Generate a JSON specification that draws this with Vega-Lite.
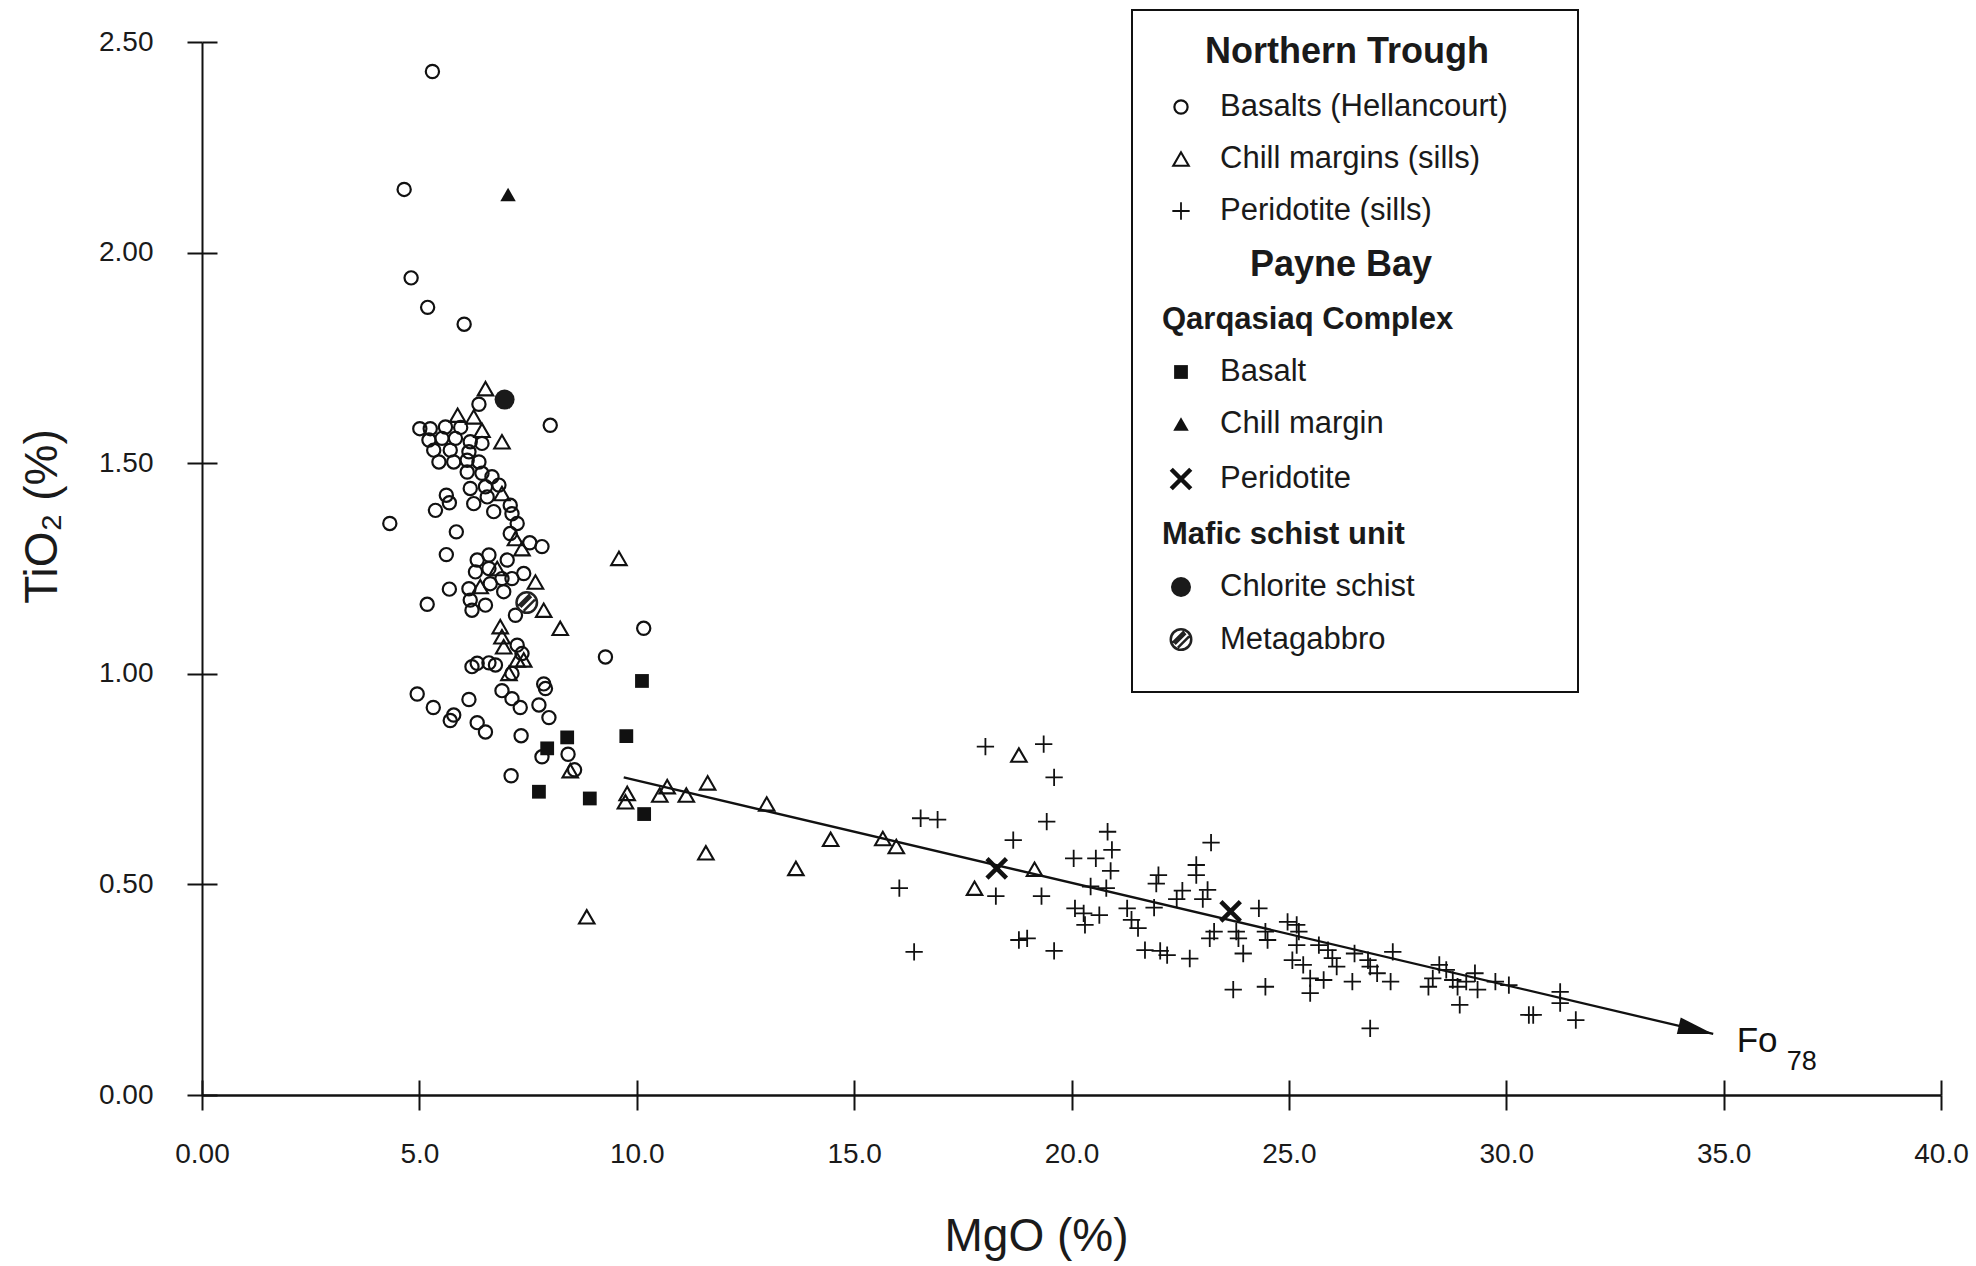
{
  "$schema": "https://vega.github.io/schema/vega-lite/v6.json",
  "width": 1739,
  "height": 1053,
  "autosize": {"type": "none"},
  "padding": {"left": 202, "top": 42, "right": 35, "bottom": 171},
  "background": "white",
  "config": {"view": {"stroke": null}, "font": "Liberation Sans"},
  "datasets": {
    "trend": [{"mgo": 9.7, "tio2": 0.754}, {"mgo": 34.76, "tio2": 0.145}],
    "label": [{"mgo": 35.3, "tio2": 0.103, "name": "Fo", "sub": "78"}],
    "points": [
      {"mgo":5.30,"tio2":2.43,"type":"Basalts (Hellancourt)"},
      {"mgo":4.65,"tio2":2.15,"type":"Basalts (Hellancourt)"},
      {"mgo":4.81,"tio2":1.94,"type":"Basalts (Hellancourt)"},
      {"mgo":5.19,"tio2":1.87,"type":"Basalts (Hellancourt)"},
      {"mgo":6.03,"tio2":1.83,"type":"Basalts (Hellancourt)"},
      {"mgo":8.01,"tio2":1.59,"type":"Basalts (Hellancourt)"},
      {"mgo":6.37,"tio2":1.64,"type":"Basalts (Hellancourt)"},
      {"mgo":5.01,"tio2":1.582,"type":"Basalts (Hellancourt)"},
      {"mgo":5.25,"tio2":1.582,"type":"Basalts (Hellancourt)"},
      {"mgo":5.60,"tio2":1.586,"type":"Basalts (Hellancourt)"},
      {"mgo":5.95,"tio2":1.585,"type":"Basalts (Hellancourt)"},
      {"mgo":5.22,"tio2":1.555,"type":"Basalts (Hellancourt)"},
      {"mgo":5.52,"tio2":1.559,"type":"Basalts (Hellancourt)"},
      {"mgo":5.83,"tio2":1.559,"type":"Basalts (Hellancourt)"},
      {"mgo":6.17,"tio2":1.551,"type":"Basalts (Hellancourt)"},
      {"mgo":6.44,"tio2":1.547,"type":"Basalts (Hellancourt)"},
      {"mgo":5.33,"tio2":1.531,"type":"Basalts (Hellancourt)"},
      {"mgo":5.71,"tio2":1.531,"type":"Basalts (Hellancourt)"},
      {"mgo":6.14,"tio2":1.527,"type":"Basalts (Hellancourt)"},
      {"mgo":5.45,"tio2":1.503,"type":"Basalts (Hellancourt)"},
      {"mgo":5.79,"tio2":1.503,"type":"Basalts (Hellancourt)"},
      {"mgo":6.10,"tio2":1.507,"type":"Basalts (Hellancourt)"},
      {"mgo":6.37,"tio2":1.503,"type":"Basalts (Hellancourt)"},
      {"mgo":6.10,"tio2":1.479,"type":"Basalts (Hellancourt)"},
      {"mgo":6.44,"tio2":1.476,"type":"Basalts (Hellancourt)"},
      {"mgo":6.67,"tio2":1.468,"type":"Basalts (Hellancourt)"},
      {"mgo":6.17,"tio2":1.44,"type":"Basalts (Hellancourt)"},
      {"mgo":6.52,"tio2":1.444,"type":"Basalts (Hellancourt)"},
      {"mgo":6.83,"tio2":1.448,"type":"Basalts (Hellancourt)"},
      {"mgo":6.25,"tio2":1.404,"type":"Basalts (Hellancourt)"},
      {"mgo":6.56,"tio2":1.42,"type":"Basalts (Hellancourt)"},
      {"mgo":6.71,"tio2":1.385,"type":"Basalts (Hellancourt)"},
      {"mgo":7.09,"tio2":1.40,"type":"Basalts (Hellancourt)"},
      {"mgo":7.13,"tio2":1.38,"type":"Basalts (Hellancourt)"},
      {"mgo":7.25,"tio2":1.357,"type":"Basalts (Hellancourt)"},
      {"mgo":7.09,"tio2":1.333,"type":"Basalts (Hellancourt)"},
      {"mgo":7.54,"tio2":1.311,"type":"Basalts (Hellancourt)"},
      {"mgo":7.82,"tio2":1.302,"type":"Basalts (Hellancourt)"},
      {"mgo":7.02,"tio2":1.27,"type":"Basalts (Hellancourt)"},
      {"mgo":4.32,"tio2":1.357,"type":"Basalts (Hellancourt)"},
      {"mgo":5.62,"tio2":1.424,"type":"Basalts (Hellancourt)"},
      {"mgo":5.69,"tio2":1.406,"type":"Basalts (Hellancourt)"},
      {"mgo":5.37,"tio2":1.388,"type":"Basalts (Hellancourt)"},
      {"mgo":5.85,"tio2":1.337,"type":"Basalts (Hellancourt)"},
      {"mgo":5.62,"tio2":1.283,"type":"Basalts (Hellancourt)"},
      {"mgo":5.69,"tio2":1.201,"type":"Basalts (Hellancourt)"},
      {"mgo":5.18,"tio2":1.165,"type":"Basalts (Hellancourt)"},
      {"mgo":6.60,"tio2":1.282,"type":"Basalts (Hellancourt)"},
      {"mgo":6.33,"tio2":1.27,"type":"Basalts (Hellancourt)"},
      {"mgo":6.29,"tio2":1.242,"type":"Basalts (Hellancourt)"},
      {"mgo":6.60,"tio2":1.25,"type":"Basalts (Hellancourt)"},
      {"mgo":6.90,"tio2":1.226,"type":"Basalts (Hellancourt)"},
      {"mgo":7.13,"tio2":1.226,"type":"Basalts (Hellancourt)"},
      {"mgo":7.40,"tio2":1.238,"type":"Basalts (Hellancourt)"},
      {"mgo":6.14,"tio2":1.202,"type":"Basalts (Hellancourt)"},
      {"mgo":6.63,"tio2":1.214,"type":"Basalts (Hellancourt)"},
      {"mgo":6.94,"tio2":1.195,"type":"Basalts (Hellancourt)"},
      {"mgo":6.17,"tio2":1.175,"type":"Basalts (Hellancourt)"},
      {"mgo":6.52,"tio2":1.163,"type":"Basalts (Hellancourt)"},
      {"mgo":6.21,"tio2":1.151,"type":"Basalts (Hellancourt)"},
      {"mgo":7.21,"tio2":1.139,"type":"Basalts (Hellancourt)"},
      {"mgo":7.25,"tio2":1.068,"type":"Basalts (Hellancourt)"},
      {"mgo":7.36,"tio2":1.048,"type":"Basalts (Hellancourt)"},
      {"mgo":6.33,"tio2":1.025,"type":"Basalts (Hellancourt)"},
      {"mgo":6.60,"tio2":1.026,"type":"Basalts (Hellancourt)"},
      {"mgo":6.21,"tio2":1.017,"type":"Basalts (Hellancourt)"},
      {"mgo":6.75,"tio2":1.021,"type":"Basalts (Hellancourt)"},
      {"mgo":7.13,"tio2":1.001,"type":"Basalts (Hellancourt)"},
      {"mgo":10.16,"tio2":1.108,"type":"Basalts (Hellancourt)"},
      {"mgo":9.28,"tio2":1.04,"type":"Basalts (Hellancourt)"},
      {"mgo":4.95,"tio2":0.952,"type":"Basalts (Hellancourt)"},
      {"mgo":5.32,"tio2":0.92,"type":"Basalts (Hellancourt)"},
      {"mgo":5.79,"tio2":0.902,"type":"Basalts (Hellancourt)"},
      {"mgo":5.71,"tio2":0.889,"type":"Basalts (Hellancourt)"},
      {"mgo":6.14,"tio2":0.939,"type":"Basalts (Hellancourt)"},
      {"mgo":6.33,"tio2":0.884,"type":"Basalts (Hellancourt)"},
      {"mgo":6.52,"tio2":0.862,"type":"Basalts (Hellancourt)"},
      {"mgo":6.90,"tio2":0.96,"type":"Basalts (Hellancourt)"},
      {"mgo":7.13,"tio2":0.941,"type":"Basalts (Hellancourt)"},
      {"mgo":7.32,"tio2":0.92,"type":"Basalts (Hellancourt)"},
      {"mgo":7.75,"tio2":0.926,"type":"Basalts (Hellancourt)"},
      {"mgo":7.86,"tio2":0.976,"type":"Basalts (Hellancourt)"},
      {"mgo":7.90,"tio2":0.965,"type":"Basalts (Hellancourt)"},
      {"mgo":7.98,"tio2":0.896,"type":"Basalts (Hellancourt)"},
      {"mgo":7.34,"tio2":0.853,"type":"Basalts (Hellancourt)"},
      {"mgo":7.11,"tio2":0.758,"type":"Basalts (Hellancourt)"},
      {"mgo":8.42,"tio2":0.809,"type":"Basalts (Hellancourt)"},
      {"mgo":8.57,"tio2":0.772,"type":"Basalts (Hellancourt)"},
      {"mgo":7.82,"tio2":0.803,"type":"Basalts (Hellancourt)"},
      {"mgo":6.52,"tio2":1.677,"type":"Chill margins (sills)"},
      {"mgo":5.88,"tio2":1.614,"type":"Chill margins (sills)"},
      {"mgo":6.25,"tio2":1.61,"type":"Chill margins (sills)"},
      {"mgo":6.44,"tio2":1.578,"type":"Chill margins (sills)"},
      {"mgo":6.90,"tio2":1.551,"type":"Chill margins (sills)"},
      {"mgo":6.90,"tio2":1.428,"type":"Chill margins (sills)"},
      {"mgo":7.21,"tio2":1.321,"type":"Chill margins (sills)"},
      {"mgo":7.36,"tio2":1.297,"type":"Chill margins (sills)"},
      {"mgo":6.79,"tio2":1.25,"type":"Chill margins (sills)"},
      {"mgo":7.67,"tio2":1.218,"type":"Chill margins (sills)"},
      {"mgo":6.40,"tio2":1.207,"type":"Chill margins (sills)"},
      {"mgo":9.59,"tio2":1.274,"type":"Chill margins (sills)"},
      {"mgo":7.86,"tio2":1.151,"type":"Chill margins (sills)"},
      {"mgo":8.24,"tio2":1.108,"type":"Chill margins (sills)"},
      {"mgo":6.86,"tio2":1.112,"type":"Chill margins (sills)"},
      {"mgo":6.90,"tio2":1.088,"type":"Chill margins (sills)"},
      {"mgo":6.94,"tio2":1.064,"type":"Chill margins (sills)"},
      {"mgo":7.25,"tio2":1.033,"type":"Chill margins (sills)"},
      {"mgo":7.40,"tio2":1.033,"type":"Chill margins (sills)"},
      {"mgo":7.06,"tio2":1.001,"type":"Chill margins (sills)"},
      {"mgo":8.47,"tio2":0.77,"type":"Chill margins (sills)"},
      {"mgo":9.78,"tio2":0.716,"type":"Chill margins (sills)"},
      {"mgo":9.74,"tio2":0.696,"type":"Chill margins (sills)"},
      {"mgo":10.70,"tio2":0.732,"type":"Chill margins (sills)"},
      {"mgo":10.53,"tio2":0.712,"type":"Chill margins (sills)"},
      {"mgo":11.14,"tio2":0.712,"type":"Chill margins (sills)"},
      {"mgo":11.63,"tio2":0.741,"type":"Chill margins (sills)"},
      {"mgo":12.99,"tio2":0.691,"type":"Chill margins (sills)"},
      {"mgo":11.59,"tio2":0.575,"type":"Chill margins (sills)"},
      {"mgo":13.66,"tio2":0.538,"type":"Chill margins (sills)"},
      {"mgo":14.46,"tio2":0.607,"type":"Chill margins (sills)"},
      {"mgo":15.66,"tio2":0.609,"type":"Chill margins (sills)"},
      {"mgo":15.97,"tio2":0.59,"type":"Chill margins (sills)"},
      {"mgo":17.77,"tio2":0.491,"type":"Chill margins (sills)"},
      {"mgo":18.79,"tio2":0.807,"type":"Chill margins (sills)"},
      {"mgo":19.15,"tio2":0.536,"type":"Chill margins (sills)"},
      {"mgo":8.85,"tio2":0.423,"type":"Chill margins (sills)"},
      {"mgo":18.02,"tio2":0.827,"type":"Peridotite (sills)"},
      {"mgo":19.36,"tio2":0.833,"type":"Peridotite (sills)"},
      {"mgo":19.60,"tio2":0.754,"type":"Peridotite (sills)"},
      {"mgo":19.43,"tio2":0.649,"type":"Peridotite (sills)"},
      {"mgo":16.53,"tio2":0.657,"type":"Peridotite (sills)"},
      {"mgo":16.92,"tio2":0.654,"type":"Peridotite (sills)"},
      {"mgo":18.66,"tio2":0.605,"type":"Peridotite (sills)"},
      {"mgo":20.83,"tio2":0.625,"type":"Peridotite (sills)"},
      {"mgo":20.93,"tio2":0.582,"type":"Peridotite (sills)"},
      {"mgo":20.56,"tio2":0.562,"type":"Peridotite (sills)"},
      {"mgo":20.05,"tio2":0.562,"type":"Peridotite (sills)"},
      {"mgo":20.90,"tio2":0.532,"type":"Peridotite (sills)"},
      {"mgo":23.21,"tio2":0.599,"type":"Peridotite (sills)"},
      {"mgo":16.04,"tio2":0.491,"type":"Peridotite (sills)"},
      {"mgo":18.26,"tio2":0.472,"type":"Peridotite (sills)"},
      {"mgo":19.31,"tio2":0.472,"type":"Peridotite (sills)"},
      {"mgo":20.44,"tio2":0.495,"type":"Peridotite (sills)"},
      {"mgo":20.80,"tio2":0.491,"type":"Peridotite (sills)"},
      {"mgo":20.08,"tio2":0.443,"type":"Peridotite (sills)"},
      {"mgo":20.28,"tio2":0.431,"type":"Peridotite (sills)"},
      {"mgo":20.64,"tio2":0.427,"type":"Peridotite (sills)"},
      {"mgo":20.31,"tio2":0.404,"type":"Peridotite (sills)"},
      {"mgo":18.98,"tio2":0.372,"type":"Peridotite (sills)"},
      {"mgo":18.79,"tio2":0.368,"type":"Peridotite (sills)"},
      {"mgo":19.60,"tio2":0.342,"type":"Peridotite (sills)"},
      {"mgo":16.38,"tio2":0.34,"type":"Peridotite (sills)"},
      {"mgo":23.72,"tio2":0.25,"type":"Peridotite (sills)"},
      {"mgo":21.28,"tio2":0.443,"type":"Peridotite (sills)"},
      {"mgo":21.38,"tio2":0.416,"type":"Peridotite (sills)"},
      {"mgo":21.53,"tio2":0.396,"type":"Peridotite (sills)"},
      {"mgo":22.00,"tio2":0.522,"type":"Peridotite (sills)"},
      {"mgo":21.95,"tio2":0.502,"type":"Peridotite (sills)"},
      {"mgo":22.87,"tio2":0.546,"type":"Peridotite (sills)"},
      {"mgo":22.87,"tio2":0.522,"type":"Peridotite (sills)"},
      {"mgo":22.55,"tio2":0.485,"type":"Peridotite (sills)"},
      {"mgo":23.13,"tio2":0.487,"type":"Peridotite (sills)"},
      {"mgo":23.02,"tio2":0.465,"type":"Peridotite (sills)"},
      {"mgo":22.42,"tio2":0.465,"type":"Peridotite (sills)"},
      {"mgo":21.90,"tio2":0.445,"type":"Peridotite (sills)"},
      {"mgo":21.69,"tio2":0.344,"type":"Peridotite (sills)"},
      {"mgo":22.04,"tio2":0.342,"type":"Peridotite (sills)"},
      {"mgo":22.20,"tio2":0.332,"type":"Peridotite (sills)"},
      {"mgo":22.72,"tio2":0.324,"type":"Peridotite (sills)"},
      {"mgo":23.28,"tio2":0.388,"type":"Peridotite (sills)"},
      {"mgo":23.18,"tio2":0.372,"type":"Peridotite (sills)"},
      {"mgo":23.79,"tio2":0.388,"type":"Peridotite (sills)"},
      {"mgo":23.84,"tio2":0.372,"type":"Peridotite (sills)"},
      {"mgo":23.95,"tio2":0.336,"type":"Peridotite (sills)"},
      {"mgo":24.31,"tio2":0.443,"type":"Peridotite (sills)"},
      {"mgo":24.46,"tio2":0.388,"type":"Peridotite (sills)"},
      {"mgo":24.51,"tio2":0.368,"type":"Peridotite (sills)"},
      {"mgo":24.97,"tio2":0.411,"type":"Peridotite (sills)"},
      {"mgo":25.18,"tio2":0.404,"type":"Peridotite (sills)"},
      {"mgo":25.23,"tio2":0.388,"type":"Peridotite (sills)"},
      {"mgo":25.18,"tio2":0.356,"type":"Peridotite (sills)"},
      {"mgo":25.08,"tio2":0.32,"type":"Peridotite (sills)"},
      {"mgo":25.33,"tio2":0.309,"type":"Peridotite (sills)"},
      {"mgo":25.49,"tio2":0.277,"type":"Peridotite (sills)"},
      {"mgo":25.49,"tio2":0.242,"type":"Peridotite (sills)"},
      {"mgo":25.69,"tio2":0.356,"type":"Peridotite (sills)"},
      {"mgo":25.90,"tio2":0.344,"type":"Peridotite (sills)"},
      {"mgo":26.00,"tio2":0.325,"type":"Peridotite (sills)"},
      {"mgo":25.80,"tio2":0.273,"type":"Peridotite (sills)"},
      {"mgo":26.10,"tio2":0.305,"type":"Peridotite (sills)"},
      {"mgo":26.46,"tio2":0.269,"type":"Peridotite (sills)"},
      {"mgo":26.51,"tio2":0.336,"type":"Peridotite (sills)"},
      {"mgo":26.82,"tio2":0.32,"type":"Peridotite (sills)"},
      {"mgo":26.87,"tio2":0.305,"type":"Peridotite (sills)"},
      {"mgo":27.03,"tio2":0.289,"type":"Peridotite (sills)"},
      {"mgo":27.39,"tio2":0.34,"type":"Peridotite (sills)"},
      {"mgo":27.34,"tio2":0.269,"type":"Peridotite (sills)"},
      {"mgo":24.46,"tio2":0.257,"type":"Peridotite (sills)"},
      {"mgo":26.87,"tio2":0.158,"type":"Peridotite (sills)"},
      {"mgo":28.21,"tio2":0.257,"type":"Peridotite (sills)"},
      {"mgo":28.31,"tio2":0.277,"type":"Peridotite (sills)"},
      {"mgo":28.46,"tio2":0.309,"type":"Peridotite (sills)"},
      {"mgo":28.62,"tio2":0.297,"type":"Peridotite (sills)"},
      {"mgo":28.77,"tio2":0.273,"type":"Peridotite (sills)"},
      {"mgo":28.88,"tio2":0.257,"type":"Peridotite (sills)"},
      {"mgo":28.93,"tio2":0.214,"type":"Peridotite (sills)"},
      {"mgo":29.08,"tio2":0.269,"type":"Peridotite (sills)"},
      {"mgo":29.28,"tio2":0.289,"type":"Peridotite (sills)"},
      {"mgo":29.34,"tio2":0.25,"type":"Peridotite (sills)"},
      {"mgo":29.75,"tio2":0.269,"type":"Peridotite (sills)"},
      {"mgo":30.06,"tio2":0.261,"type":"Peridotite (sills)"},
      {"mgo":30.52,"tio2":0.19,"type":"Peridotite (sills)"},
      {"mgo":30.62,"tio2":0.19,"type":"Peridotite (sills)"},
      {"mgo":31.24,"tio2":0.245,"type":"Peridotite (sills)"},
      {"mgo":31.24,"tio2":0.218,"type":"Peridotite (sills)"},
      {"mgo":31.60,"tio2":0.178,"type":"Peridotite (sills)"},
      {"mgo":10.12,"tio2":0.983,"type":"Basalt"},
      {"mgo":9.76,"tio2":0.852,"type":"Basalt"},
      {"mgo":8.40,"tio2":0.849,"type":"Basalt"},
      {"mgo":7.94,"tio2":0.823,"type":"Basalt"},
      {"mgo":7.75,"tio2":0.72,"type":"Basalt"},
      {"mgo":8.92,"tio2":0.704,"type":"Basalt"},
      {"mgo":10.17,"tio2":0.667,"type":"Basalt"},
      {"mgo":7.04,"tio2":2.138,"type":"Chill margin"},
      {"mgo":18.28,"tio2":0.538,"type":"Peridotite"},
      {"mgo":23.66,"tio2":0.436,"type":"Peridotite"},
      {"mgo":6.96,"tio2":1.651,"type":"Chlorite schist"},
      {"mgo":7.47,"tio2":1.169,"type":"Metagabbro"}
    ]
  },
  "resolve": {"axis": {"x": "independent", "y": "independent"}},
  "layer": [
    {
      "data": {"name": "trend"},
      "mark": {"type": "line", "color": "#111111", "strokeWidth": 2.3},
      "encoding": {
        "x": {"field": "mgo", "type": "quantitative", "scale": {"domain": [0, 40], "nice": false, "zero": false},
          "axis": {"orient": "bottom", "offset": -15, "values": [0, 5, 10, 15, 20, 25, 30, 35, 40], "ticks": true, "tickSize": 15, "tickWidth": 2, "tickColor": "#111111", "domain": false, "labels": false, "grid": false, "title": null}},
        "y": {"field": "tio2", "type": "quantitative", "scale": {"domain": [0, 2.5], "nice": false, "zero": false},
          "axis": {"orient": "left", "offset": -15, "values": [0, 0.5, 1, 1.5, 2, 2.5], "ticks": true, "tickSize": 15, "tickWidth": 2, "tickColor": "#111111", "domain": false, "labels": false, "grid": false, "title": null}}
      }
    },
    {
      "data": {"name": "trend"},
      "transform": [{"filter": "datum.mgo > 30"}],
      "mark": {"type": "point", "shape": "M0,0L-1,-0.24L-1,0.24Z", "size": 5000, "angle": 13.25, "filled": true, "fill": "#111111", "strokeWidth": 0, "opacity": 1},
      "encoding": {
        "x": {"field": "mgo", "type": "quantitative", "axis": null},
        "y": {"field": "tio2", "type": "quantitative", "axis": null}
      }
    },
    {
      "data": {"name": "points"},
      "mark": {"type": "point", "opacity": 1},
      "encoding": {
        "x": {"field": "mgo", "type": "quantitative", "scale": {"domain": [0, 40], "nice": false, "zero": false},
          "axis": {"orient": "bottom", "values": [0, 5, 10, 15, 20, 25, 30, 35, 40], "labelExpr": "datum.value == 0 ? '0.00' : format(datum.value, '.1f')", "ticks": true, "tickSize": 15, "tickWidth": 2, "tickColor": "#111111", "domain": true, "domainColor": "#111111", "domainWidth": 2.5, "grid": false, "labelFlush": false, "labelOverlap": false, "labelFont": "Liberation Sans", "labelFontSize": 28, "labelColor": "#1a1a1a", "labelPadding": 30, "title": "MgO (%)", "titleFont": "Liberation Sans", "titleFontSize": 46, "titleFontWeight": "normal", "titleColor": "#1a1a1a", "titleX": 834, "titleY": 141, "titleAlign": "center", "titleBaseline": "middle"}},
        "y": {"field": "tio2", "type": "quantitative", "scale": {"domain": [0, 2.5], "nice": false, "zero": false},
          "axis": {"orient": "left", "values": [0, 0.5, 1, 1.5, 2, 2.5], "format": ".2f", "ticks": true, "tickSize": 15, "tickWidth": 2, "tickColor": "#111111", "domain": true, "domainColor": "#111111", "domainWidth": 2, "grid": false, "labelFlush": false, "labelOverlap": false, "labelFont": "Liberation Sans", "labelFontSize": 28, "labelColor": "#1a1a1a", "labelPadding": 34, "title": "TiO₂ (%)", "titleFont": "Liberation Sans", "titleFontSize": 46, "titleFontWeight": "normal", "titleColor": "#1a1a1a", "titleX": -160, "titleY": 474, "titleAngle": -90, "titleAlign": "center", "titleBaseline": "middle"}},
        "shape": {"field": "type", "type": "nominal",
          "scale": {"domain": ["Northern Trough", "Basalts (Hellancourt)", "Chill margins (sills)", "Peridotite (sills)", "Payne Bay", "Qarqasiaq Complex", "Basalt", "Chill margin", "Peridotite", "Mafic schist unit", "Chlorite schist", "Metagabbro"],
            "range": ["circle", "circle", "triangle-up", "M-1,0L1,0M0,-1L0,1", "circle", "circle", "square", "triangle-up", "M-1,-1L1,1M-1,1L1,-1", "circle", "circle", "M1,0A1,1,0,1,1,-1,0A1,1,0,1,1,1,0ZM-0.6,0.45L0.45,-0.6M-0.3,0.8L0.8,-0.3M-0.8,0.3L0.3,-0.8"]},
          "legend": {
            "title": " ", "titleOrient": "right", "titlePadding": 33, "titleFontSize": 10,
            "orient": "none", "legendX": 930, "legendY": -32,
            "padding": 37, "fillColor": "white", "strokeColor": "#111111",
            "labelFont": "Liberation Sans", "labelFontSize": 31, "labelColor": "#1a1a1a",
            "labelOffset": 27, "rowPadding": 21, "labelLimit": 600, "symbolOpacity": 1,
            "encoding": {
              "legend": {"strokeWidth": {"value": 2}},
              "labels": {
                "fontWeight": {"condition": {"test": "indexof(['Northern Trough','Payne Bay','Qarqasiaq Complex','Mafic schist unit'], datum.label) >= 0", "value": "bold"}, "value": "normal"},
                "fontSize": {"condition": {"test": "datum.label == 'Northern Trough' || datum.label == 'Payne Bay'", "value": 36}, "value": 31},
                "dx": {"condition": [{"test": "datum.label == 'Northern Trough'", "value": -15}, {"test": "datum.label == 'Payne Bay'", "value": 30}, {"test": "datum.label == 'Qarqasiaq Complex' || datum.label == 'Mafic schist unit'", "value": -58}], "value": 0}
              }
            }
          }},
        "fill": {"field": "type", "type": "nominal",
          "scale": {"domain": ["Northern Trough", "Basalts (Hellancourt)", "Chill margins (sills)", "Peridotite (sills)", "Payne Bay", "Qarqasiaq Complex", "Basalt", "Chill margin", "Peridotite", "Mafic schist unit", "Chlorite schist", "Metagabbro"],
            "range": ["transparent", "transparent", "transparent", "transparent", "transparent", "transparent", "#111111", "#111111", "transparent", "transparent", "#1a1a1a", "transparent"]},
          "legend": {"title": " "}},
        "stroke": {"field": "type", "type": "nominal",
          "scale": {"domain": ["Northern Trough", "Basalts (Hellancourt)", "Chill margins (sills)", "Peridotite (sills)", "Payne Bay", "Qarqasiaq Complex", "Basalt", "Chill margin", "Peridotite", "Mafic schist unit", "Chlorite schist", "Metagabbro"],
            "range": ["transparent", "#111111", "#111111", "#111111", "transparent", "transparent", "transparent", "transparent", "#111111", "transparent", "transparent", "#222222"]},
          "legend": {"title": " "}},
        "strokeWidth": {"field": "type", "type": "nominal",
          "scale": {"type": "ordinal", "domain": ["Northern Trough", "Basalts (Hellancourt)", "Chill margins (sills)", "Peridotite (sills)", "Payne Bay", "Qarqasiaq Complex", "Basalt", "Chill margin", "Peridotite", "Mafic schist unit", "Chlorite schist", "Metagabbro"],
            "range": [0, 2.2, 2.1, 1.8, 0, 0, 0, 0, 4.5, 0, 0, 2.5]},
          "legend": {"title": " "}},
        "size": {"field": "type", "type": "nominal",
          "scale": {"type": "ordinal", "domain": ["Northern Trough", "Basalts (Hellancourt)", "Chill margins (sills)", "Peridotite (sills)", "Payne Bay", "Qarqasiaq Complex", "Basalt", "Chill margin", "Peridotite", "Mafic schist unit", "Chlorite schist", "Metagabbro"],
            "range": [100, 175, 240, 300, 100, 100, 190, 240, 380, 100, 400, 420]},
          "legend": {"title": " "}}
      }
    },
    {
      "data": {"name": "label"},
      "mark": {"type": "text", "align": "left", "baseline": "alphabetic", "fontSize": 35, "font": "Liberation Sans", "color": "#111111"},
      "encoding": {
        "x": {"field": "mgo", "type": "quantitative", "axis": null},
        "y": {"field": "tio2", "type": "quantitative", "axis": null},
        "text": {"field": "name"}
      }
    },
    {
      "data": {"name": "label"},
      "mark": {"type": "text", "align": "left", "baseline": "alphabetic", "fontSize": 27, "font": "Liberation Sans", "color": "#111111", "dx": 50, "dy": 18},
      "encoding": {
        "x": {"field": "mgo", "type": "quantitative", "axis": null},
        "y": {"field": "tio2", "type": "quantitative", "axis": null},
        "text": {"field": "sub"}
      }
    }
  ]
}
